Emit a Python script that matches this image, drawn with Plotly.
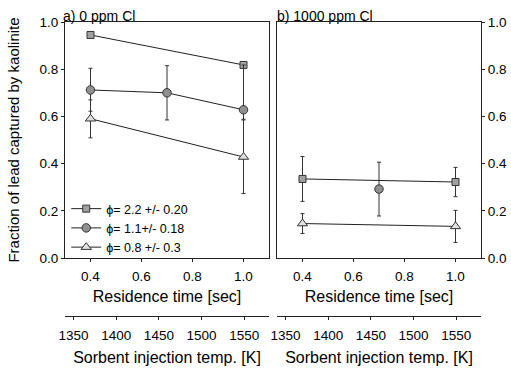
import plotly.graph_objects as go

# ---- data ----
# panel a) 0 ppm Cl
a_sq_x = [0.4, 1.0]
a_sq_y = [0.945, 0.818]
a_ci_x = [0.4, 0.7, 1.0]
a_ci_y = [0.712, 0.700, 0.628]
a_ci_ep = [0.092, 0.115, 0.19]
a_ci_em = [0.090, 0.115, 0.04]
a_tr_x = [0.4, 1.0]
a_tr_y = [0.590, 0.428]
a_tr_ep = [0.080, 0.157]
a_tr_em = [0.081, 0.155]
# panel b) 1000 ppm Cl
b_sq_x = [0.4, 1.0]
b_sq_y = [0.335, 0.322]
b_sq_e = [0.095, 0.062]
b_ci_x = [0.7]
b_ci_y = [0.292]
b_ci_e = [0.114]
b_tr_x = [0.4, 1.0]
b_tr_y = [0.146, 0.134]
b_tr_e = [0.042, 0.068]

legend_names = ["ϕ= 2.2 +/- 0.20", "ϕ= 1.1+/- 0.18", "ϕ= 0.8 +/- 0.3"]
y_ticks = [0.0, 0.2, 0.4, 0.6, 0.8, 1.0]
x_ticks = [0.4, 0.6, 0.8, 1.0]
temp_ticks = [1350, 1400, 1450, 1500, 1550]
temp_range = [1340, 1579]

FONT = "Liberation Sans, Arial, sans-serif"
LINE = "#222222"

sq_marker = dict(symbol="square", size=7, color="#a0a0a0", line=dict(color="#333", width=1))
ci_marker = dict(symbol="circle", size=8.5, color="#909090", line=dict(color="#333", width=1))
tr_marker = dict(symbol="triangle-up", size=9, color="#e0e0e0", line=dict(color="#333", width=1))


def err(plus, minus=None):
    d = dict(type="data", array=plus, color="#333", thickness=1, width=2)
    if minus is not None:
        d["arrayminus"] = minus
        d["symmetric"] = False
    return d


fig = go.Figure()
fig.add_trace(go.Scatter(x=a_sq_x, y=a_sq_y, mode="lines+markers", name=legend_names[0],
                         line=dict(color=LINE, width=1), marker=sq_marker, xaxis="x", yaxis="y"))
fig.add_trace(go.Scatter(x=a_ci_x, y=a_ci_y, mode="lines+markers", name=legend_names[1],
                         line=dict(color=LINE, width=1), marker=ci_marker,
                         error_y=err(a_ci_ep, a_ci_em), xaxis="x", yaxis="y"))
fig.add_trace(go.Scatter(x=a_tr_x, y=a_tr_y, mode="lines+markers", name=legend_names[2],
                         line=dict(color=LINE, width=1), marker=tr_marker,
                         error_y=err(a_tr_ep, a_tr_em), xaxis="x", yaxis="y"))

fig.add_trace(go.Scatter(x=b_sq_x, y=b_sq_y, mode="lines+markers", showlegend=False,
                         line=dict(color=LINE, width=1), marker=sq_marker,
                         error_y=err(b_sq_e), xaxis="x2", yaxis="y2"))
fig.add_trace(go.Scatter(x=b_ci_x, y=b_ci_y, mode="markers", showlegend=False,
                         marker=ci_marker, error_y=err(b_ci_e), xaxis="x2", yaxis="y2"))
fig.add_trace(go.Scatter(x=b_tr_x, y=b_tr_y, mode="lines+markers", showlegend=False,
                         line=dict(color=LINE, width=1), marker=tr_marker,
                         error_y=err(b_tr_e), xaxis="x2", yaxis="y2"))

# invisible traces to attach the temperature axes
fig.add_trace(go.Scatter(x=temp_range, y=[None, None], mode="markers", showlegend=False,
                         hoverinfo="skip", xaxis="x3", yaxis="y"))
fig.add_trace(go.Scatter(x=temp_range, y=[None, None], mode="markers", showlegend=False,
                         hoverinfo="skip", xaxis="x4", yaxis="y2"))

W, H = 511, 372
ml, mr, mt, mb = 65, 30, 22, 56
pw = W - ml - mr
ph = H - mt - mb
d1 = [0, (269 - ml) / pw]
d2 = [(277 - ml) / pw, 1]
ydom = [(316 - 258) / ph, 1]

common_x = dict(range=[0.3, 1.1], tickvals=x_ticks, tickformat=".1f", ticks="outside", ticklen=3,
                showline=True, linecolor=LINE, linewidth=1, mirror=True, showgrid=False,
                zeroline=False, tickfont=dict(size=13.5), title_font=dict(size=16),
                title_standoff=7, tickcolor=LINE, automargin=False, ticklabelstandoff=3)
common_y = dict(range=[0, 1.0], tickvals=y_ticks, tickformat=".1f", ticks="outside", ticklen=3,
                showline=True, linecolor=LINE, linewidth=1, mirror=True, showgrid=False,
                zeroline=False, tickfont=dict(size=13.5), domain=ydom, tickcolor=LINE,
                automargin=False)
temp_x = dict(range=temp_range, tickvals=temp_ticks, ticks="outside", ticklen=3,
              showline=True, linecolor=LINE, linewidth=1, showgrid=False, zeroline=False,
              tickfont=dict(size=13.5), title_font=dict(size=16), anchor="free", position=0,
              title_standoff=9, tickcolor=LINE, automargin=False, ticklabelstandoff=4)

fig.update_layout(
    width=W, height=H,
    margin=dict(l=ml, r=mr, t=mt, b=mb, autoexpand=False),
    paper_bgcolor="white", plot_bgcolor="white",
    font=dict(family=FONT, color="black", size=13),
    showlegend=True,
    legend=dict(x=0.003, y=(316 - 228) / ph, xref="paper", yref="paper", xanchor="left",
                yanchor="middle", font=dict(size=12.5), bgcolor="rgba(0,0,0,0)", itemwidth=30,
                tracegroupgap=0),
    xaxis=dict(common_x, domain=d1, anchor="y", title_text="Residence time [sec]"),
    xaxis2=dict(common_x, domain=d2, anchor="y2", title_text="Residence time [sec]"),
    xaxis3=dict(temp_x, overlaying="x", title_text="Sorbent injection temp. [K]"),
    xaxis4=dict(temp_x, overlaying="x2", title_text="Sorbent injection temp. [K]"),
    yaxis=dict(common_y, anchor="x", side="left",
               title_text="Fraction of lead captured by kaolinite", title_font=dict(size=15),
               title_standoff=16),
    yaxis2=dict(common_y, anchor="x2", side="right"),
    annotations=[
        dict(text="a) 0 ppm Cl", x=d1[0], y=1, xref="paper", yref="paper", xanchor="left",
             yanchor="bottom", showarrow=False, font=dict(size=14), xshift=-4, yshift=-4),
        dict(text="b) 1000 ppm Cl", x=d2[0], y=1, xref="paper", yref="paper", xanchor="left",
             yanchor="bottom", showarrow=False, font=dict(size=14), xshift=-2, yshift=-4),
    ],
)

fig.write_html("out.html", config={"displayModeBar": False},
               post_script="document.body.style.margin='0';")
